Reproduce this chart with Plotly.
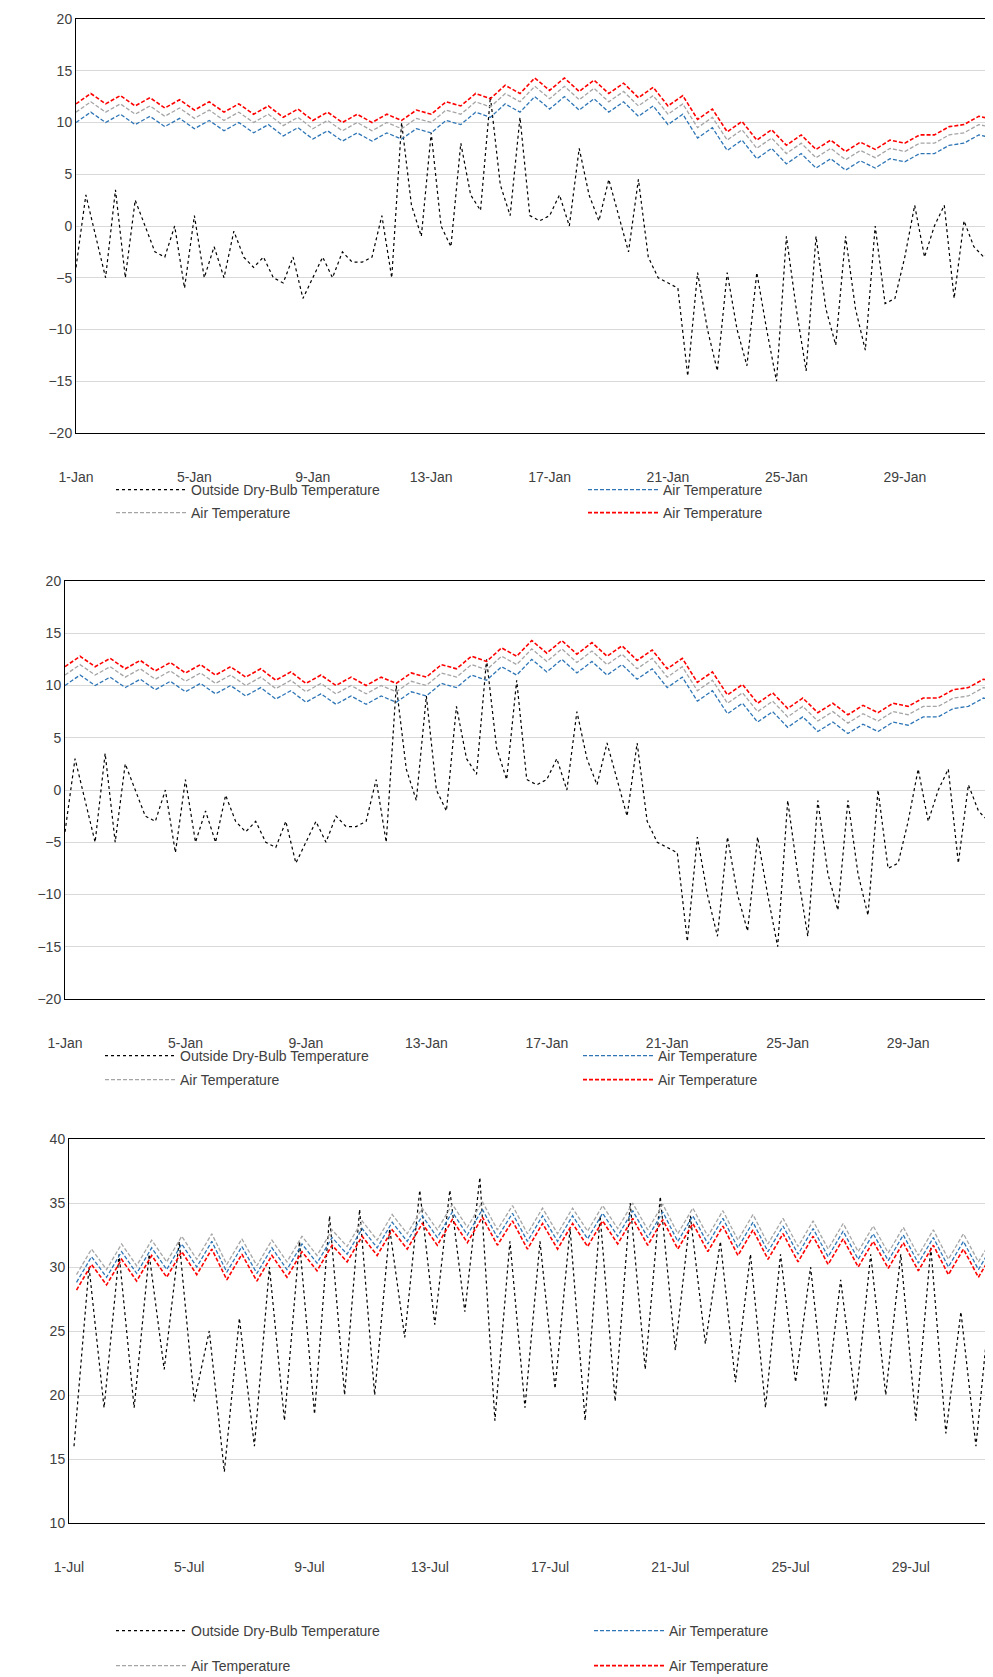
import plotly.graph_objects as go
import pandas as pd

# January outside dry-bulb, every 8 hours
jan_outside = [-4, 3, -1, -5, 3.5, -5, 2.5, 0, -2.5, -3, 0, -6, 1, -5, -2, -5, -0.5, -3,
               -4, -3, -5, -5.5, -3, -7, -5, -3, -5, -2.5, -3.5, -3.5, -3, 1, -5, 10, 2, -1,
               9, 0, -2, 8, 3, 1.5, 12.5, 4, 1, 10.5, 1, 0.5, 1, 3, 0, 7.5, 3, 0.5,
               4.5, 1, -2.5, 4.5, -3, -5, -5.5, -6, -14.5, -4.5, -10, -14, -4.5, -10, -13.5,
               -4.5, -10, -15, -1, -8, -14, -1, -8, -11.5, -1, -8, -12, 0, -7.5, -7,
               -3, 2, -3, 0, 2, -7, 0.5, -2, -3, -2]
# January inside air temperatures, every 12 hours
jan_blue = [10, 11, 10, 10.8, 9.8, 10.6, 9.6, 10.4, 9.4, 10.2, 9.2, 10, 9, 9.8, 8.7, 9.5, 8.4, 9.2,
            8.2, 9, 8.2, 9, 8.4, 9.4, 9, 10.2, 9.8, 11, 10.5, 11.8, 11, 12.5, 11.3, 12.5, 11.2, 12.3,
            11, 12, 10.6, 11.6, 9.8, 10.8, 8.5, 9.5, 7.3, 8.3, 6.5, 7.5, 6, 7, 5.6, 6.5, 5.4, 6.3,
            5.6, 6.5, 6.2, 7, 7, 7.8, 8, 8.8, 8.5]
jan_gray = [11, 12, 11, 11.8, 10.8, 11.6, 10.6, 11.4, 10.4, 11.2, 10.2, 11, 10, 10.8, 9.7, 10.5, 9.4, 10.2,
            9.2, 10, 9.2, 10, 9.4, 10.4, 10, 11.2, 10.8, 12, 11.5, 12.8, 12, 13.5, 12.3, 13.5, 12.2, 13.3,
            12, 13, 11.6, 12.6, 10.8, 11.8, 9.5, 10.5, 8.3, 9.3, 7.5, 8.5, 7, 8, 6.6, 7.5, 6.4, 7.3,
            6.6, 7.5, 7.2, 8, 8, 8.8, 9, 9.8, 9.5]
jan_red = [11.8, 12.8, 11.8, 12.6, 11.6, 12.4, 11.4, 12.2, 11.2, 12, 11, 11.8, 10.8, 11.6, 10.5, 11.3, 10.2, 11,
           10, 10.8, 10, 10.8, 10.2, 11.2, 10.8, 12, 11.6, 12.8, 12.3, 13.6, 12.8, 14.3, 13.1, 14.3, 13, 14.1,
           12.8, 13.8, 12.4, 13.4, 11.6, 12.6, 10.3, 11.3, 9.1, 10.1, 8.3, 9.3, 7.8, 8.8, 7.4, 8.3, 7.2, 8.1,
           7.4, 8.3, 8, 8.8, 8.8, 9.6, 9.8, 10.6, 10.3]

# July outside dry-bulb, daily min (04h) and max (16h)
jul_outside = [16, 30, 19, 31, 19, 31, 22, 32, 19.5, 25, 14, 26, 16, 30, 18, 32, 18.5, 34, 20, 34.5,
               20, 33, 24.5, 36, 25.5, 36, 26.5, 37, 18, 32, 19, 32, 20.5, 33, 18, 34, 19.5, 35,
               22, 35.5, 23.5, 34, 24, 32, 21, 31, 19, 31, 21, 30, 19, 29, 19.5, 31, 20, 31,
               18, 31.5, 17, 26.5, 16, 28, 18]
jul_blue = [28.8, 30.8, 29.2, 31.2, 29.5, 31.5, 29.8, 31.8, 30, 32, 29.6, 31.6, 29.5, 31.5, 29.8, 31.8,
            30.3, 32.3, 31, 33, 31.5, 33.5, 32, 34, 32.3, 34.3, 32.5, 34.5, 32.3, 34.2, 32, 34, 32, 34,
            32.2, 34.2, 32.4, 34.4, 32.3, 34.3, 32, 34, 31.8, 33.8, 31.5, 33.5, 31.2, 33.2, 31, 33,
            30.8, 32.8, 30.6, 32.6, 30.5, 32.5, 30.3, 32.3, 30, 32, 29.8, 31.8]
jul_gray = [29.4, 31.4, 29.8, 31.8, 30.1, 32.1, 30.4, 32.4, 30.6, 32.6, 30.2, 32.2, 30.1, 32.1, 30.4, 32.4,
            30.9, 32.9, 31.6, 33.6, 32.1, 34.1, 32.6, 34.6, 32.9, 34.9, 33.1, 35.1, 32.9, 34.8, 32.6, 34.6,
            32.6, 34.6, 32.8, 34.8, 33, 35, 32.9, 34.9, 32.6, 34.6, 32.4, 34.4, 32.1, 34.1, 31.8, 33.8,
            31.6, 33.6, 31.4, 33.4, 31.2, 33.2, 31.1, 33.1, 30.9, 32.9, 30.6, 32.6, 30.4, 32.4]
jul_red = [28.2, 30.2, 28.6, 30.6, 28.9, 30.9, 29.2, 31.2, 29.4, 31.4, 29, 31, 28.9, 30.9, 29.2, 31.2,
           29.7, 31.7, 30.4, 32.4, 30.9, 32.9, 31.4, 33.4, 31.7, 33.7, 31.9, 33.9, 31.7, 33.6, 31.4, 33.4,
           31.4, 33.4, 31.6, 33.6, 31.8, 33.8, 31.7, 33.7, 31.4, 33.4, 31.2, 33.2, 30.9, 32.9, 30.6, 32.6,
           30.4, 32.4, 30.2, 32.2, 30, 32, 29.9, 31.9, 29.7, 31.7, 29.4, 31.4, 29.2, 31.2]

names = ["Outside Dry-Bulb Temperature", "Air Temperature", "Air Temperature", "Air Temperature"]

W, H = 993, 1677
fig = go.Figure()
tick_font = dict(family="Liberation Sans", size=14, color="#404040")
leg_count = [0]


def add_chart(n, series, starts, freqs, left, ytop, ybot, yrange, xend, legpos):
    colors = ["#000000", "#2E75B6", "#A5A5A5", "#FF0000"]
    dashes = ["dot", "4px,2px", "4px,2px", "4px,2px"]
    widths = [1.2, 1.3, 1.3, 1.6]
    sfx = "" if n == 1 else str(n)
    for i, vals in enumerate(series):
        xs = pd.date_range(starts[i], periods=len(vals), freq=freqs[i])
        leg_count[0] += 1
        lk = "legend" if leg_count[0] == 1 else "legend" + str(leg_count[0])
        fig.add_trace(go.Scatter(x=xs, y=vals, mode="lines", name=names[i],
                                 line=dict(color=colors[i], dash=dashes[i], width=widths[i]),
                                 xaxis="x" + sfx, yaxis="y" + sfx, legend=lk))
        lx, ly = legpos[i]
        fig.update_layout({lk: dict(x=(lx - 6) / W, xanchor="left", y=1 - ly / H, yanchor="middle",
                                    font=dict(family="Liberation Sans", size=14, color="#404040"),
                                    bgcolor="rgba(0,0,0,0)", itemwidth=70)})
    ax = dict(domain=[left / W, 1], type="date", range=[starts[0][:10], xend], dtick=4 * 86400000,
              tick0=starts[0][:10], tickformat="%-d-%b", showgrid=False, showline=True,
              linecolor="#000", mirror=True, tickfont=tick_font, ticks="",
              ticklabelstandoff=31, anchor="y" + sfx, automargin=False)
    ay = dict(domain=[1 - ybot / H, 1 - ytop / H], range=yrange, dtick=5,
              showgrid=True, gridcolor="#D9D9D9", showline=True, linecolor="#000",
              mirror=False, tickfont=tick_font, zeroline=False, anchor="x" + sfx,
              automargin=False, tickformat="d")
    fig.update_layout({"xaxis" + sfx: ax, "yaxis" + sfx: ay})


jan_series = [jan_outside, jan_blue, jan_gray, jan_red]
jan_starts = ["2021-01-01 00:00"] * 4
jan_freqs = ["8h", "12h", "12h", "12h"]
add_chart(1, jan_series, jan_starts, jan_freqs, 68, 11, 425, [-20, 20], "2021-02-01 06:00",
          [(109, 482), (581, 482), (109, 505), (581, 505)])
add_chart(2, jan_series, jan_starts, jan_freqs, 57, 573, 991, [-20, 20], "2021-02-01 02:00",
          [(98, 1048), (576, 1048), (98, 1072), (576, 1072)])
add_chart(3, [jul_outside, jul_blue, jul_gray, jul_red],
          ["2021-07-01 04:00", "2021-07-01 06:00", "2021-07-01 06:00", "2021-07-01 06:00"],
          ["12h"] * 4, 61, 1131, 1515, [10, 40], "2021-08-01 00:00",
          [(109, 1623), (587, 1623), (109, 1658), (587, 1658)])

fig.update_layout(width=W, height=H, margin=dict(l=0, r=0, t=0, b=0, autoexpand=False),
                  plot_bgcolor="white", paper_bgcolor="white", showlegend=True)
fig.write_html("out.html")
